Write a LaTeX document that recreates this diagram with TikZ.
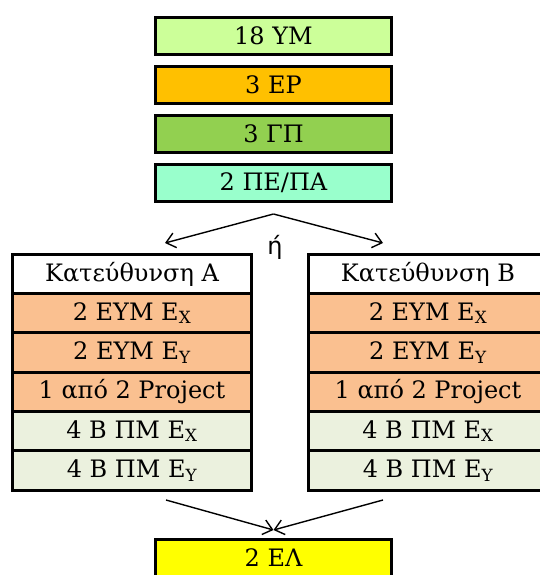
\documentclass[tikz,border=0pt]{standalone}
\usepackage{fontspec}
\setmainfont{DejaVu Serif}
\newfontfamily\orfont{DejaVu Sans}
\usetikzlibrary{positioning,arrows.meta}
\definecolor{lime}{HTML}{CCFF99}
\definecolor{amber}{HTML}{FFC000}
\definecolor{leaf}{HTML}{92D050}
\definecolor{aqua}{HTML}{99FFCC}
\definecolor{peach}{HTML}{FAC090}
\definecolor{sage}{HTML}{EBF1DE}
\definecolor{lemon}{HTML}{FFFF00}
\tikzset{
	>={Straight Barb[length=9pt,width=15pt]}
}

\begin{document}
\begin{tikzpicture}[
	x = 1pt, y = 1pt,
	node distance = 9pt,
	every node/.style = {
		font = \fontsize{24}{28}\selectfont
	},
	block/.style = {
		draw,
		line width = 3pt,
		minimum width = 236pt,
		minimum height = 37pt,
		inner sep = 0pt,
	},
	row/.style = {
		draw,
		line width = 3pt,
		minimum width = 239.5pt,
		minimum height = 39.3pt,
		inner sep = 0pt,
		outer sep = 0pt,
	},
	link/.style = {
		->,
		line width = 1.4pt
	}
	]
	\useasboundingbox (0,0) rectangle (540,-575);
	
	% common part
	\node[block, fill=lime] (ym) at (273.5,-36) {18 ΥΜ};
	\node[block, fill=amber, below = of ym] (ep) {3 ΕΡ};
	\node[block, fill=leaf, below = of ep] (gp) {3 ΓΠ};
	\node[block, fill=aqua, below = of gp] (pe) {2 ΠΕ/ΠΑ};
	
	% direction A
	\node[row, fill=white] (dirA) at (132,-273.9) {Κατεύθυνση Α};
	\node[row, fill=peach, below = 0pt of dirA] (eymxA) {2 ΕΥΜ Ε\textsubscript{X}};
	\node[row, fill=peach, below = 0pt of eymxA] (eymyA) {2 ΕΥΜ Ε\textsubscript{Y}};
	\node[row, fill=peach, below = 0pt of eymyA] (projA) {1 από 2 Project};
	\node[row, fill=sage, below = 0pt of projA] (pmxA) {4 Β ΠΜ Ε\textsubscript{X}};
	\node[row, fill=sage, below = 0pt of pmxA] (pmyA) {4 Β ΠΜ Ε\textsubscript{Y}};
	
	% direction B
	\node[row, fill=white] (dirB) at (428,-273.9) {Κατεύθυνση Β};
	\node[row, fill=peach, below = 0pt of dirB] (eymxB) {2 ΕΥΜ Ε\textsubscript{X}};
	\node[row, fill=peach, below = 0pt of eymxB] (eymyB) {2 ΕΥΜ Ε\textsubscript{Y}};
	\node[row, fill=peach, below = 0pt of eymyB] (projB) {1 από 2 Project};
	\node[row, fill=sage, below = 0pt of projB] (pmxB) {4 Β ΠΜ Ε\textsubscript{X}};
	\node[row, fill=sage, below = 0pt of pmxB] (pmyB) {4 Β ΠΜ Ε\textsubscript{Y}};
	
	\node[block, fill=lemon] (el) at (273.5,-558) {2 ΕΛ};
	
	% choice
	\coordinate (fork) at ([yshift=-11pt] pe.south);
	\coordinate (toA) at (165,-243);
	\coordinate (toB) at (383,-243);
	\node (or) at (275,-247) {\orfont ή};
	\draw[link] (fork) -- (toA);
	\draw[link] (fork) -- (toB);
	
	\coordinate (fromA) at (166,-500);
	\coordinate (fromB) at (383,-500);
	\coordinate (merge) at ([yshift=8pt] el.north);
	\draw[link] (fromA) -- (merge);
	\draw[link] (fromB) -- (merge);
	
\end{tikzpicture}
\end{document}
